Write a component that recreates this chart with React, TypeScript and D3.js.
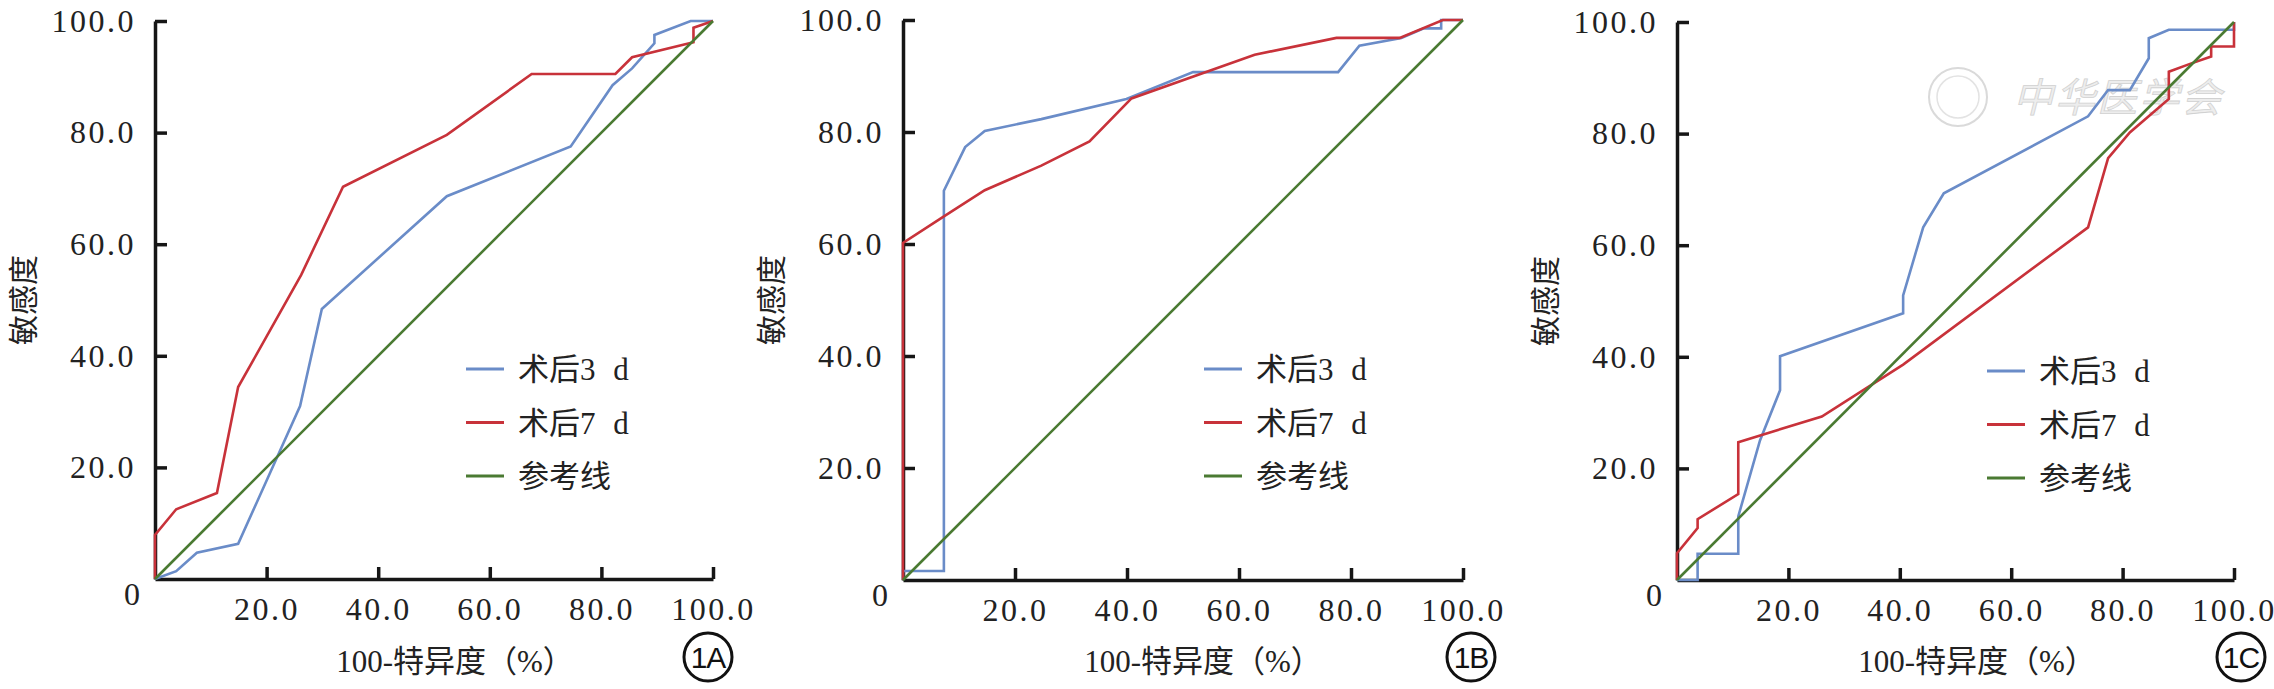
import { useEffect, useRef } from 'react';
import * as d3 from 'd3';

type Pt = [number, number];

// axis ticks and labels
const xTickValues = [20, 40, 60, 80, 100];
const yTickValues = [20, 40, 60, 80, 100];
const seriesNames = ['术后3 d', '术后7 d', '参考线'];
const panelNames = ['1A', '1B', '1C'];
const xAxisTitle = '100-特异度（%）';
const yAxisTitle = '敏感度';
const watermarkText = '中华医学会';

// ROC curves: [100-specificity, sensitivity]
const refLine: Pt[] = [[0, 0], [100, 100]];

const rocA3d: Pt[] = [
  [0, 0], [3.8, 1.4], [7.5, 4.7], [14.9, 6.3], [26.0, 31.0], [29.9, 48.4],
  [52.3, 68.6], [74.5, 77.5], [82, 88.5], [85.5, 91.5], [89.5, 96], [89.5, 97.5],
  [96, 100], [100, 100],
];
const rocA7d: Pt[] = [
  [0, 0], [0, 7.9], [3.8, 12.5], [11.1, 15.4], [14.9, 34.4], [26.2, 54.5],
  [33.7, 70.3], [52.3, 79.6], [67.5, 90.5], [82.5, 90.5], [85.5, 93.5],
  [96.5, 96.2], [96.5, 98.8], [100, 100],
];

const rocB3d: Pt[] = [
  [0, 0], [0, 1.6], [7.3, 1.6], [7.3, 69.5], [11.1, 77.3], [14.6, 80.2],
  [24.7, 82.3], [39.9, 85.9], [51.8, 90.7], [77.7, 90.7], [81.5, 95.4],
  [89, 96.8], [93, 98.5], [96.1, 98.5], [96.1, 100], [100, 100],
];
const rocB7d: Pt[] = [
  [0, 0], [0, 60.2], [7.1, 64.8], [14.6, 69.6], [24.7, 74.0], [33.3, 78.3],
  [40.8, 86.0], [62.8, 93.8], [77.4, 96.8], [88.7, 96.8], [96.4, 100], [100, 100],
];

const rocC3d: Pt[] = [
  [0, 0], [3.7, 0], [3.7, 4.7], [11.0, 4.7], [11.0, 11.4], [14.9, 25], [18.5, 34.0],
  [18.5, 40.1], [40.6, 47.8], [40.6, 51.0], [44.2, 63.2], [47.9, 69.3], [73.8, 83.1],
  [77.4, 87.8], [81.3, 87.8], [84.7, 93.5], [84.7, 97.1], [88.3, 98.6], [100, 98.6],
  [100, 100],
];
const rocC7d: Pt[] = [
  [0, 0], [0, 4.8], [3.7, 9.3], [3.7, 10.9], [11.0, 15.4], [11.0, 24.7], [26.0, 29.3],
  [40.6, 38.6], [73.8, 63.2], [77.4, 75.6], [81.3, 80.2], [88.3, 86.2], [88.3, 91.1],
  [92.1, 92.5], [95.9, 93.8], [95.9, 95.6], [100, 95.6], [100, 100],
];

const panelSeries: Pt[][][] = [
  [rocA3d, rocA7d, refLine],
  [rocB3d, rocB7d, refLine],
  [rocC3d, rocC7d, refLine],
];

const colors = ['#6a8cc8', '#c8323a', '#4a7a32'];

// pixel layout of the three panels
const layout = [
  { left: 155, right: 713, top: 21, bottom: 579, legendDx: 311, legendY: 369, badgeX: 708 },
  { left: 903, right: 1463, top: 20, bottom: 580, legendDx: 301, legendY: 369, badgeX: 1471 },
  { left: 1677, right: 2234, top: 22, bottom: 580, legendDx: 310, legendY: 371, badgeX: 2241 },
];

const W = 2274;
const H = 689;
const serif = "'Liberation Serif', 'Noto Sans CJK SC', serif";
const cjk = "'Noto Sans CJK SC', sans-serif";

export default function App() {
  const svgRef = useRef<SVGSVGElement>(null);

  useEffect(() => {
    if (!svgRef.current) return;
    const svg = d3.select(svgRef.current);
    svg.selectAll('*').remove();

    svg.append('rect').attr('width', W).attr('height', H).attr('fill', '#fff');

    // watermark in the third panel
    const wm = svg.append('g').attr('opacity', 0.9);
    wm.append('circle').attr('cx', 1958).attr('cy', 97).attr('r', 29)
      .attr('fill', 'none').attr('stroke', '#d6d6d6').attr('stroke-width', 2);
    wm.append('circle').attr('cx', 1958).attr('cy', 97).attr('r', 21)
      .attr('fill', 'none').attr('stroke', '#e0e0e0').attr('stroke-width', 1.5);
    wm.append('text').attr('x', 2013).attr('y', 112)
      .attr('font-family', cjk).attr('font-size', 40).attr('font-style', 'italic')
      .attr('letter-spacing', 2)
      .attr('fill', '#ececec').attr('stroke', '#cdcdcd').attr('stroke-width', 0.8)
      .text(watermarkText);

    layout.forEach((p, i) => {
      const x = d3.scaleLinear().domain([0, 100]).range([p.left, p.right]);
      const y = d3.scaleLinear().domain([0, 100]).range([p.bottom, p.top]);
      const g = svg.append('g');

      // axes with inward ticks
      const yAxis = g.append('g')
        .attr('transform', `translate(${p.left},0)`)
        .call(d3.axisLeft(y).tickValues(yTickValues).tickSize(-12).tickSizeOuter(0)
          .tickPadding(19).tickFormat(d3.format('.1f')));
      const xAxis = g.append('g')
        .attr('transform', `translate(0,${p.bottom})`)
        .call(d3.axisBottom(x).tickValues(xTickValues).tickSize(-12).tickSizeOuter(0)
          .tickPadding(18).tickFormat(d3.format('.1f')));

      [yAxis, xAxis].forEach(a => {
        a.attr('font-family', serif).attr('font-size', 32).style('color', '#161616');
        a.selectAll('.domain').attr('stroke-width', 3.5);
        a.selectAll('.tick line').attr('stroke-width', 3.5);
        a.selectAll('.tick text').attr('letter-spacing', 2.5).attr('fill', '#222');
      });

      g.append('text')
        .attr('x', p.left - 23).attr('y', p.bottom + 26)
        .attr('text-anchor', 'middle').attr('font-family', serif).attr('font-size', 32)
        .attr('fill', '#222').text('0');

      // axis titles
      g.append('text')
        .attr('x', p.left + 300).attr('y', 672)
        .attr('text-anchor', 'middle').attr('font-family', serif).attr('font-size', 31)
        .attr('fill', '#222').text(xAxisTitle);
      g.append('text')
        .attr('transform', `translate(${p.left - 121},${(p.top + p.bottom) / 2}) rotate(-90)`)
        .attr('text-anchor', 'middle').attr('font-family', cjk).attr('font-size', 30)
        .attr('fill', '#222').text(yAxisTitle);

      // curves
      const line = d3.line<Pt>().x(d => x(d[0])).y(d => y(d[1]));
      panelSeries[i].forEach((s, k) => {
        g.append('path')
          .datum(s)
          .attr('fill', 'none')
          .attr('stroke', colors[k])
          .attr('stroke-width', 2.6)
          .attr('d', line);
      });

      // legend
      seriesNames.forEach((name, k) => {
        const ly = p.legendY + k * 53.5;
        const lx = p.left + p.legendDx;
        g.append('line')
          .attr('x1', lx).attr('x2', lx + 38).attr('y1', ly).attr('y2', ly)
          .attr('stroke', colors[k]).attr('stroke-width', 3);
        g.append('text')
          .attr('x', lx + 52).attr('y', ly + 11)
          .attr('font-family', serif).attr('font-size', 31).attr('fill', '#222')
          .attr('word-spacing', 10)
          .text(name);
      });

      // circled panel label
      g.append('circle')
        .attr('cx', p.badgeX).attr('cy', 657).attr('r', 24)
        .attr('fill', 'none').attr('stroke', '#111').attr('stroke-width', 3);
      g.append('text')
        .attr('x', p.badgeX).attr('y', 668)
        .attr('text-anchor', 'middle').attr('font-family', "'Liberation Sans', Arial, sans-serif")
        .attr('font-size', 30).attr('fill', '#111').attr('letter-spacing', -1)
        .text(panelNames[i]);
    });
  }, []);

  return (
    <div style={{ position: 'absolute', left: 0, top: 0 }}>
      <svg ref={svgRef} width={W} height={H} style={{ display: 'block' }} />
    </div>
  );
}
